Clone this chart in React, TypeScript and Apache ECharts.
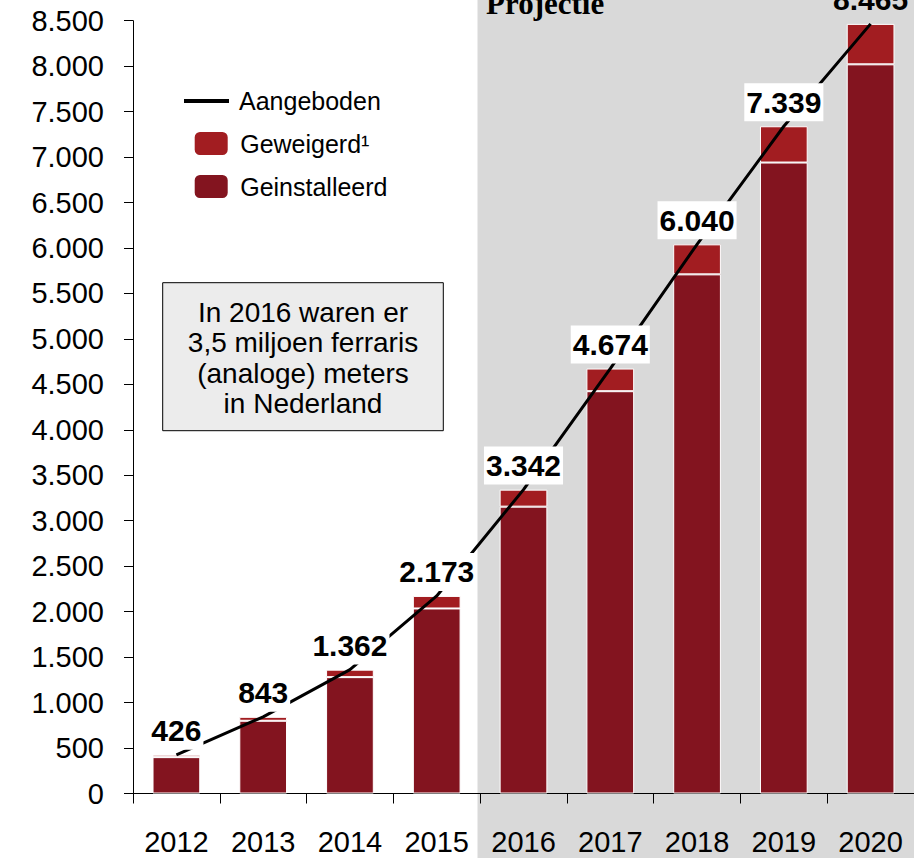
import React, { useEffect, useRef } from "react";
import * as echarts from "echarts";

const years = ["2012", "2013", "2014", "2015", "2016", "2017", "2018", "2019", "2020"];
const aangeboden = [426, 843, 1362, 2173, 3342, 4674, 6040, 7339, 8465];
const geinstalleerd = [400, 800, 1280, 2035, 3155, 4425, 5710, 6940, 8020];
const geweigerd = [26, 43, 82, 138, 187, 249, 330, 399, 445];
const noteLines = ["In 2016 waren er", "3,5 miljoen ferraris", "(analoge) meters", "in Nederland"];
const projectionLabel = "Projectie";

const fmt = (v: number) => String(v).replace(/\B(?=(\d{3})+(?!\d))/g, ".");

export default function App() {
  const ref = useRef<HTMLDivElement>(null);
  useEffect(() => {
    if (!ref.current) return;
    const chart = echarts.init(ref.current, undefined, { renderer: "svg" });
    const sans = "Liberation Sans, Arial, sans-serif";
    const lineData = aangeboden.map((v, i) =>
      i === aangeboden.length - 1
        ? { value: v, label: { backgroundColor: "transparent" } }
        : { value: v }
    );
    chart.setOption({
      animation: false,
      backgroundColor: "#ffffff",
      textStyle: { fontFamily: sans },
      grid: { left: 133, top: 20.7, width: 785, height: 772.8, containLabel: false },
      legend: [
        {
          data: [{ name: "Aangeboden", icon: "rect" }],
          left: 184,
          top: 88.5,
          padding: 0,
          itemWidth: 45,
          itemHeight: 4,
          itemGap: 16,
          textStyle: { fontSize: 25, color: "#000", fontFamily: sans, padding: [0, 0, 0, 5] },
          selectedMode: false,
        },
        {
          data: ["Geweigerd¹", "Geinstalleerd"],
          orient: "vertical",
          left: 192.7,
          top: 130,
          padding: 0,
          itemWidth: 35,
          itemHeight: 25,
          itemGap: 16,
          textStyle: { fontSize: 25, color: "#000", fontFamily: sans, padding: [0, 0, 0, 6.5] },
          selectedMode: false,
        },
      ],
      xAxis: {
        type: "category",
        data: years,
        axisLine: { show: true, lineStyle: { color: "#000", width: 1 } },
        axisTick: { show: true, length: 10, alignWithLabel: false, lineStyle: { color: "#000", width: 1 } },
        axisLabel: { fontSize: 29, color: "#000", margin: 34, fontFamily: sans, interval: 0 },
        splitLine: { show: false },
      },
      yAxis: {
        type: "value",
        min: 0,
        max: 8500,
        interval: 500,
        axisLine: { show: true, lineStyle: { color: "#000", width: 1 } },
        axisTick: { show: true, length: 9, lineStyle: { color: "#000", width: 1 } },
        axisLabel: { fontSize: 29, color: "#000", margin: 29, fontFamily: sans, formatter: (v: number) => fmt(v) },
        splitLine: { show: false },
      },
      series: [
        {
          name: "Geinstalleerd",
          type: "bar",
          stack: "total",
          barWidth: "55%",
          data: geinstalleerd,
          itemStyle: { color: "#83141f", borderColor: "#ffffff", borderWidth: 1 },
          z: 2,
        },
        {
          name: "Geweigerd¹",
          type: "bar",
          stack: "total",
          barWidth: "55%",
          data: geweigerd,
          itemStyle: { color: "#a21d21", borderColor: "#ffffff", borderWidth: 1 },
          z: 2,
        },
        {
          name: "Aangeboden",
          type: "line",
          data: lineData,
          smooth: false,
          symbol: "circle",
          symbolSize: 0.1,
          showSymbol: true,
          color: "#000",
          itemStyle: { color: "#000" },
          lineStyle: { color: "#000", width: 3 },
          z: 3,
          labelLayout: { hideOverlap: false },
          label: {
            show: true,
            position: "top",
            distance: 5,
            fontSize: 30,
            fontWeight: "bold",
            color: "#000",
            fontFamily: sans,
            backgroundColor: "#ffffff",
            padding: [4, 2],
            formatter: (p: any) => fmt(p.value),
          },
        },
      ],
      graphic: [
        {
          type: "rect",
          z: -10,
          silent: true,
          shape: { x: 477.5, y: 0, width: 440, height: 858 },
          style: { fill: "#d9d9d9" },
        },
        {
          type: "text",
          z: 10,
          silent: true,
          style: {
            text: projectionLabel,
            x: 486,
            y: 3.5,
            fontSize: 31,
            fontWeight: "bold",
            fontFamily: "Liberation Serif, Times New Roman, serif",
            fill: "#000",
            verticalAlign: "middle",
          },
        },
        {
          type: "rect",
          z: 10,
          silent: true,
          shape: { x: 162.7, y: 282.7, width: 280.6, height: 148 },
          style: { fill: "#ececec", stroke: "#000", lineWidth: 1 },
        },
        {
          type: "text",
          z: 11,
          silent: true,
          style: {
            text: noteLines.join("\n"),
            x: 303,
            y: 358,
            fontSize: 28,
            lineHeight: 30.5,
            fontFamily: sans,
            fill: "#000",
            align: "center",
            verticalAlign: "middle",
          },
        },
      ],
    });
    return () => chart.dispose();
  }, []);
  return (
    <div
      ref={ref}
      style={{ position: "fixed", left: 0, top: 0, width: 914, height: 858, overflow: "hidden" }}
    />
  );
}
